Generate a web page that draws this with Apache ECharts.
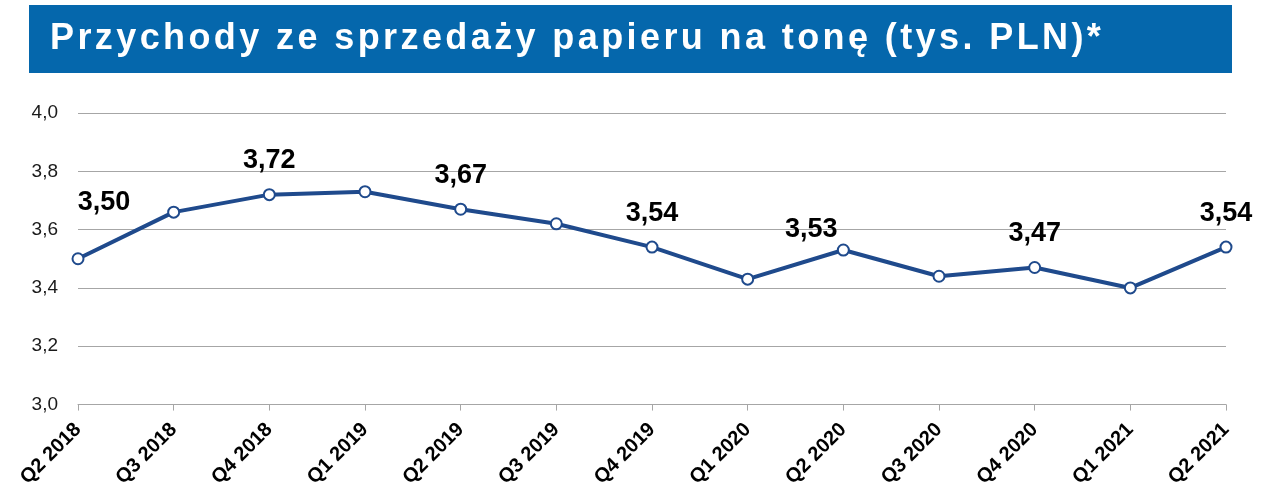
<!DOCTYPE html>
<html>
<head>
<meta charset="utf-8">
<script src="https://cdn.jsdelivr.net/npm/echarts@6/dist/echarts.min.js"></script>
<style>
html,body{margin:0;padding:0;background:#fff;}
#chart{width:1274px;height:490px;}
</style>
</head>
<body>
<div id="chart"></div>
<script>
const TITLE = 'Przychody ze sprzedaży papieru na tonę (tys. PLN)*';
const categories = ['Q2 2018','Q3 2018','Q4 2018','Q1 2019','Q2 2019','Q3 2019','Q4 2019','Q1 2020','Q2 2020','Q3 2020','Q4 2020','Q1 2021','Q2 2021'];
const values = [3.50, 3.66, 3.72, 3.73, 3.67, 3.62, 3.54, 3.43, 3.53, 3.44, 3.47, 3.40, 3.54];
const labeledIdx = [0, 2, 4, 6, 8, 10, 12];
const yTicks = [3.0, 3.2, 3.4, 3.6, 3.8, 4.0];

const LINE = '#1F4A8C';
const FONT = '"Liberation Sans", Arial, Helvetica, sans-serif';
const labelOffsets = {0: [26, -22], 8: [-32, 14]};

const fmt = v => v.toFixed(2).replace('.', ',');

const seriesData = values.map((v, i) => {
  const item = {value: v};
  if (labeledIdx.indexOf(i) >= 0) {
    item.label = {show: true, offset: labelOffsets[i] || [0, 0]};
  }
  return item;
});

const chart = echarts.init(document.getElementById('chart'), null, {renderer: 'canvas'});
chart.setOption({
  animation: false,
  backgroundColor: '#fff',
  graphic: [
    {type: 'rect', shape: {x: 29, y: 5, width: 1203, height: 68}, style: {fill: '#0567AC'}, z: 0},
    {type: 'text', x: 50, y: 39, z: 1,
      style: {
        text: TITLE.split('').map(c => '{c|' + c + '}').join(''),
        verticalAlign: 'middle',
        rich: {c: {fontSize: 36, fontWeight: 'bold', fontFamily: FONT, fill: '#ffffff', padding: [0, 3.4, 0, 0]}}
      }
    }
  ],
  grid: {left: 78, right: 48, top: 113, bottom: 83, containLabel: false},
  xAxis: {
    type: 'category',
    data: categories,
    boundaryGap: false,
    axisLine: {lineStyle: {color: '#A6A6A6', width: 1}},
    axisTick: {show: true, length: 6, lineStyle: {color: '#A6A6A6'}},
    axisLabel: {rotate: 45, fontSize: 20, fontWeight: 'bold', color: '#000', fontFamily: FONT, margin: 22, interval: 0},
    splitLine: {show: false}
  },
  yAxis: {
    type: 'value',
    min: yTicks[0],
    max: yTicks[yTicks.length - 1],
    interval: 0.2,
    axisLine: {show: false},
    axisTick: {show: false},
    axisLabel: {fontSize: 19, color: '#1a1a1a', fontFamily: FONT, margin: 20,
      formatter: v => v.toFixed(1).replace('.', ',')},
    splitLine: {lineStyle: {color: '#A6A6A6', width: 1}}
  },
  series: [{
    type: 'line',
    data: seriesData,
    symbol: 'circle',
    symbolSize: 11,
    showAllSymbol: true,
    lineStyle: {color: LINE, width: 4},
    itemStyle: {color: '#ffffff', borderColor: LINE, borderWidth: 2},
    label: {show: false, position: 'top', distance: 14, fontSize: 27, fontWeight: 'bold', color: '#000', fontFamily: FONT,
      formatter: p => fmt(p.value)},
    emphasis: {disabled: true}
  }]
});
</script>
</body>
</html>
